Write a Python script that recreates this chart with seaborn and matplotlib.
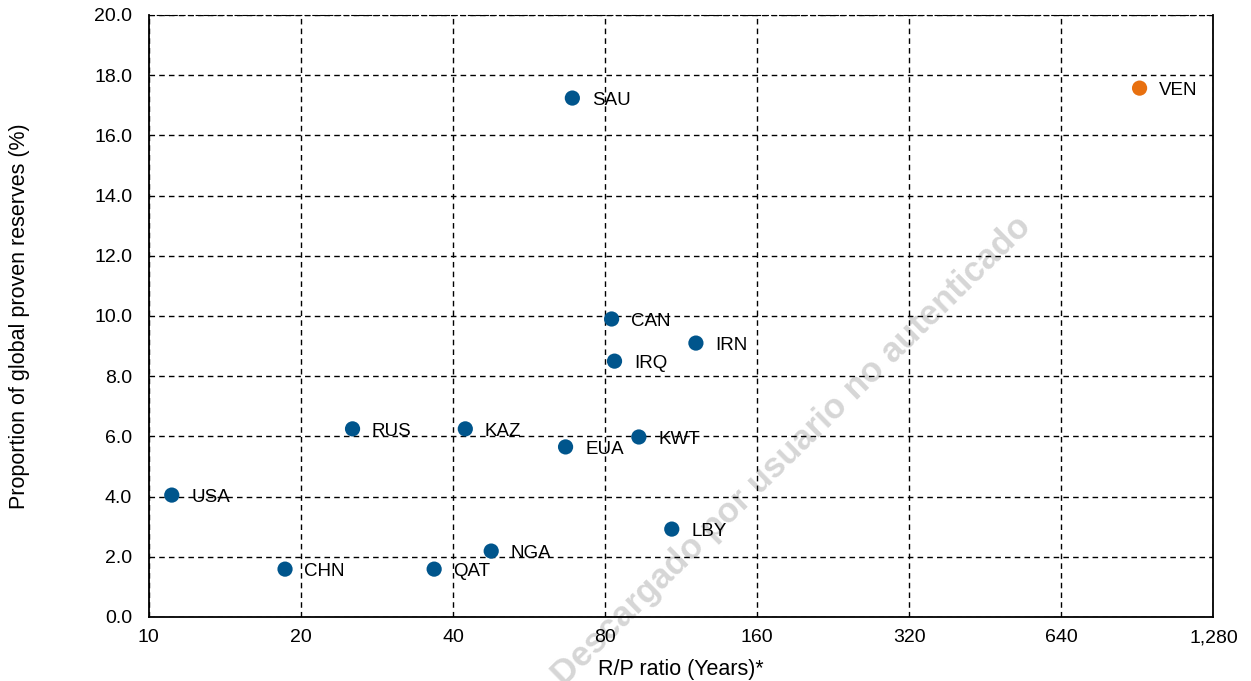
import numpy as np
import pandas as pd
import seaborn as sns
import matplotlib.pyplot as plt
from matplotlib.ticker import FixedLocator, FuncFormatter, NullLocator

sns.set_style('white')
plt.rcParams['font.family'] = ['Liberation Sans', 'DejaVu Sans']
plt.rcParams['text.color'] = 'black'
plt.rcParams['axes.labelcolor'] = 'black'
plt.rcParams['xtick.color'] = 'black'
plt.rcParams['ytick.color'] = 'black'

# Dados
countries = ['USA', 'CHN', 'RUS', 'QAT', 'KAZ', 'NGA', 'EUA', 'SAU',
             'CAN', 'IRQ', 'KWT', 'LBY', 'IRN', 'VEN']
rp_ratio = [11.1, 18.6, 25.3, 36.7, 42.3, 47.6, 66.8, 68.9,
            82.4, 83.5, 93.3, 108.4, 121.0, 914.0]
share = [4.05, 1.59, 6.25, 1.59, 6.25, 2.19, 5.65, 17.24,
         9.9, 8.5, 5.98, 2.92, 9.1, 17.57]
highlight = ['no'] * 13 + ['yes']

x_ticks = [10, 20, 40, 80, 160, 320, 640, 1280]
y_ticks = [0, 2, 4, 6, 8, 10, 12, 14, 16, 18, 20]

df = pd.DataFrame({'country': countries, 'rp': rp_ratio,
                   'share': share, 'hl': highlight})

fig = plt.figure(figsize=(12.51, 6.81), dpi=100)
ax = fig.add_axes([0.119, 0.094, 0.851, 0.884])
ax.set_facecolor('none')

sns.scatterplot(data=df, x='rp', y='share', hue='hl',
                palette={'no': '#00558C', 'yes': '#E8700F'},
                s=120, edgecolor='none', legend=False, ax=ax, zorder=3)

ax.set_xscale('log', base=2)
ax.set_xlim(10, 1280)
ax.set_ylim(0, 20)
ax.xaxis.set_major_locator(FixedLocator(x_ticks))
ax.xaxis.set_minor_locator(NullLocator())
ax.xaxis.set_major_formatter(FuncFormatter(lambda v, p: f'{v:,.0f}'))
ax.set_yticks(y_ticks)
ax.yaxis.set_major_formatter(FuncFormatter(lambda v, p: f'{v:.1f}'))

ax.grid(True, color='black', linestyle=(0, (4, 3)), linewidth=1.0)
ax.set_axisbelow(True)
for side in ['left', 'bottom', 'right']:
    ax.spines[side].set_color('black')
    ax.spines[side].set_linewidth(1.3)
ax.spines['top'].set_linestyle((0, (4, 3)))
ax.spines['top'].set_color('black')
ax.tick_params(axis='both', length=0, labelsize=14)
ax.tick_params(axis='y', pad=12)
ax.tick_params(axis='x', pad=9)

for _, r in df.iterrows():
    ax.annotate(r['country'], (r['rp'], r['share']), xytext=(14, -2),
                textcoords='offset points', va='center', ha='left',
                fontsize=13.5, zorder=4)

ax.set_xlabel('R/P ratio (Years)*', fontsize=15.5, labelpad=9)
ax.set_ylabel('Proportion of global proven reserves (%)', fontsize=15.5)
ax.yaxis.set_label_coords(-0.112, 0.5)

# marca d'água (por baixo da grelha)
ax.text(0.633, 0.338, 'Descargado por usuario no autenticado', rotation=44.4,
        transform=fig.transFigure, fontsize=25, fontweight='bold',
        color='#d6d6d6', ha='center', va='center', zorder=0.4, clip_on=False)

fig.savefig('out.png', dpi=100)
